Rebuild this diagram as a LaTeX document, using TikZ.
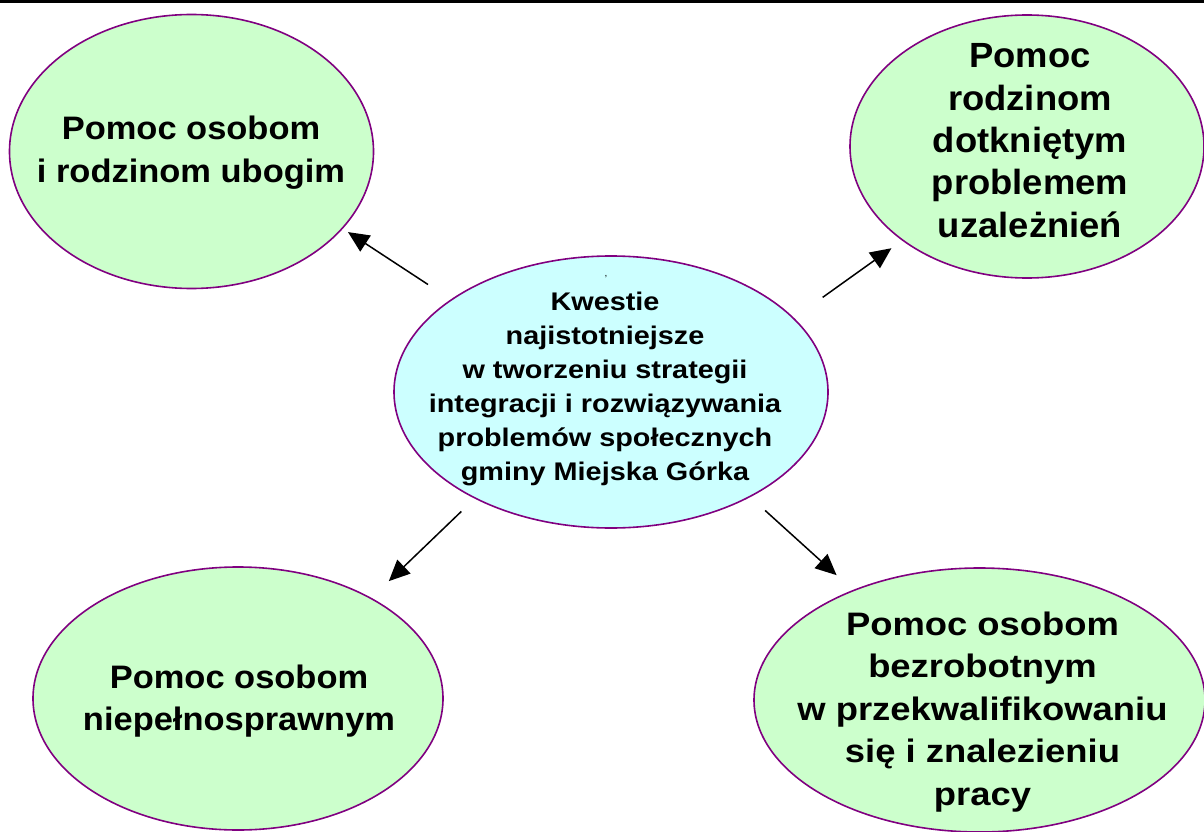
\documentclass[tikz,border=0pt]{standalone}
\usepackage{fontspec}
\setmainfont{Liberation Sans}
\usetikzlibrary{arrows.meta,shapes.geometric}
\definecolor{bubblegreen}{HTML}{CCFFCC}
\definecolor{bubblecyan}{HTML}{CCFFFF}
\definecolor{bubbleline}{HTML}{800080}
\newcommand\bubblefont[3]{\fontsize{#1}{#2}\selectfont\bfseries\addfontfeature{FakeStretch=#3}}
\begin{document}
\begin{tikzpicture}
            [x=1pt, y=-1pt,
            bubble/.style={ellipse, draw=bubbleline, line width=1.6pt, fill=bubblegreen,
            inner sep=0pt, outer sep=0pt},
            bubbletext/.style={align=center, inner sep=0pt},
            link/.style={draw=black, line width=1.5pt, -{Triangle[length=21pt, width=19pt]}}]
            \useasboundingbox (0,0) rectangle (1204,832);
            \draw [line width=2.7pt] (0,1.3) -- (1204,1.3);
            % middle
            \node [bubble, style={fill=bubblecyan, minimum width=434pt, minimum height=272pt}] (kwestie) at (611,392) {};
            \node [bubbletext, font=\bubblefont{25.5}{34}{1.13}] (kwestietext) at (605,388.5)
                {Kwestie\\najistotniejsze\\w tworzeniu strategii\\integracji i rozwiązywania\\problemów społecznych\\gminy Miejska Górka};
            \node [font=\fontsize{10}{10}\selectfont] (tick) at (606,277) {,};
            % four groups
            \node [bubble, style={minimum width=364pt, minimum height=274pt}] (poor) at (191.5,151.5) {};
            \node [bubbletext, font=\bubblefont{32.5}{43}{1.06}] (poortext) at (191,153) {Pomoc osobom\\i rodzinom ubogim};
            \node [bubble, style={minimum width=354pt, minimum height=263pt}] (addiction) at (1027,146.5) {};
            \node [bubbletext, font=\bubblefont{35}{42.4}{1.04}] (addictiontext) at (1030,140.7)
                {Pomoc\\rodzinom\\dotkniętym\\problemem\\uzależnień};
            \node [bubble, style={minimum width=410pt, minimum height=263pt}] (disabled) at (238,698.5) {};
            \node [bubbletext, font=\bubblefont{32.5}{41.7}{1.06}] (disabledtext) at (239,701)
                {Pomoc osobom\\niepełnosprawnym};
            \node [bubble, style={minimum width=451pt, minimum height=264pt}] (unemployed) at (979.5,700) {};
            \node [bubbletext, font=\bubblefont{32.5}{42.5}{1.12}] (unemployedtext) at (982.5,711.7)
                {Pomoc osobom\\bezrobotnym\\w przekwalifikowaniu\\się i znalezieniu\\pracy};
            \draw [link, shorten <=28pt, shorten >=6.9pt] (kwestie.150) -- (poor.333);
            \draw [link, shorten <=36pt, shorten >=13.9pt] (kwestie.22) -- (addiction.217);
            \draw [link, shorten <=19.3pt, shorten >=24.9pt] (kwestie.218) -- (disabled.37);
            \draw [link, shorten <=20.7pt, shorten >=22.9pt] (kwestie.323) -- (unemployed.139);
\end{tikzpicture}
\end{document}
